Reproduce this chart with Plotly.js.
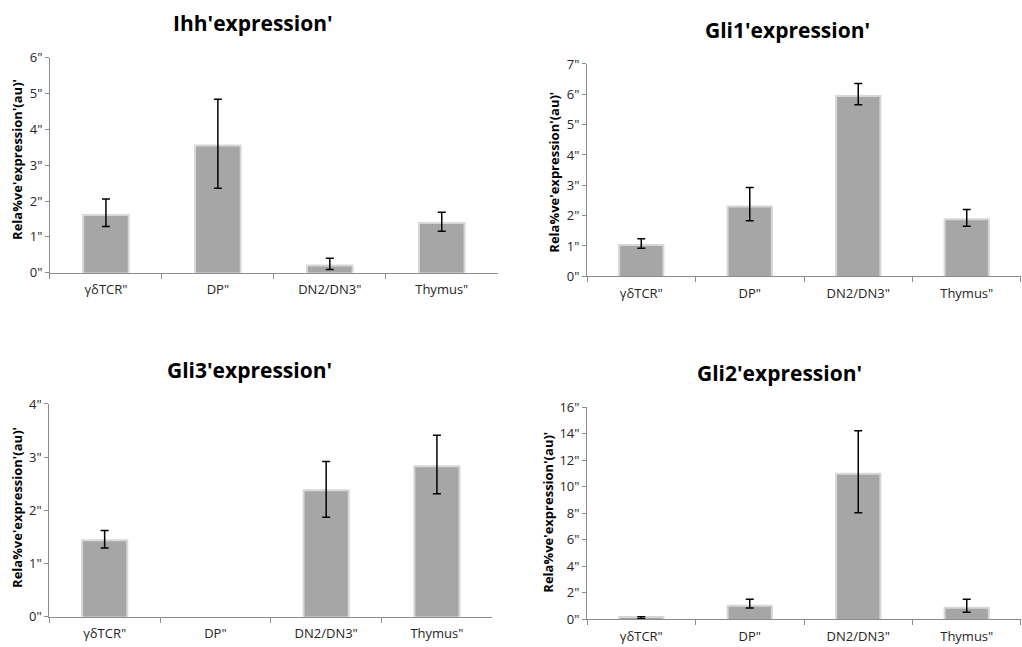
<!DOCTYPE html>
<html>
<head>
<meta charset="utf-8">
<script src="https://cdn.plot.ly/plotly-3.0.1.min.js"></script>
<style>html,body{margin:0;padding:0;background:#fff;}#chart{width:1022px;height:647px;}</style>
</head>
<body>
<div id="chart"></div>
<script>
const categories = ['γδTCR"', 'DP"', 'DN2/DN3"', 'Thymus"'];

const ihhValues = [1.58, 3.52, 0.17, 1.36];
const ihhErrPlus = [0.48, 1.32, 0.23, 0.33];
const ihhErrMinus = [0.29, 1.16, 0.08, 0.20];

const gli1Values = [1.00, 2.27, 5.91, 1.85];
const gli1ErrPlus = [0.24, 0.66, 0.45, 0.35];
const gli1ErrMinus = [0.08, 0.44, 0.25, 0.20];

const gli3Values = [1.42, null, 2.36, 2.81];
const gli3ErrPlus = [0.20, null, 0.56, 0.60];
const gli3ErrMinus = [0.13, null, 0.49, 0.50];

const gli2Values = [0.10, 0.95, 10.9, 0.80];
const gli2ErrPlus = [0.10, 0.56, 3.31, 0.71];
const gli2ErrMinus = [0.05, 0.10, 2.87, 0.27];

const titles = ["Ihh'expression'", "Gli1'expression'", "Gli3'expression'", "Gli2'expression'"];
const yTitle = "Rela%ve'expression'(au)'";

const FONT = 'Open Sans, sans-serif';
const BAR = '#a6a6a6';

function barTrace(vals, plus, minus, xa, ya) {
  return {
    type: 'bar', x: categories, y: vals, xaxis: xa, yaxis: ya,
    marker: {color: BAR, line: {color: 'rgba(166,166,166,0.45)', width: 4}},
    error_y: {type: 'data', symmetric: false, array: plus, arrayminus: minus,
              color: '#000', thickness: 1.5, width: 4},
    hoverinfo: 'none', showlegend: false
  };
}

const data = [
  barTrace(ihhValues, ihhErrPlus, ihhErrMinus, 'x', 'y'),
  barTrace(gli1Values, gli1ErrPlus, gli1ErrMinus, 'x2', 'y2'),
  barTrace(gli3Values, gli3ErrPlus, gli3ErrMinus, 'x3', 'y3'),
  barTrace(gli2Values, gli2ErrPlus, gli2ErrMinus, 'x4', 'y4')
];

function xAxis(domain, anchor) {
  return {
    domain: domain, anchor: anchor, type: 'category',
    categoryorder: 'array', categoryarray: categories,
    showline: true, linecolor: '#8c8c8c', linewidth: 1,
    ticks: 'outside', tickson: 'boundaries', ticklen: 5, tickcolor: '#8c8c8c',
    ticklabelstandoff: 5,
    tickfont: {family: FONT, size: 13, color: '#262626'},
    showgrid: false, zeroline: false, fixedrange: true
  };
}
function yAxis(domain, anchor, range, dtick) {
  return {
    domain: domain, anchor: anchor, range: range, dtick: dtick, tick0: 0,
    ticksuffix: '"',
    showline: true, linecolor: '#8c8c8c', linewidth: 1,
    ticks: 'outside', ticklen: 4, tickcolor: '#8c8c8c',
    tickfont: {family: FONT, size: 13, color: '#262626'},
    showgrid: false, zeroline: false, fixedrange: true
  };
}

function titleAnn(text, x, y) {
  return {text: text, x: x, y: y, xref: 'paper', yref: 'paper', showarrow: false,
          xanchor: 'center', yanchor: 'middle',
          font: {family: FONT, size: 21, color: '#000', weight: 'bold'}};
}
function yTitleAnn(x, y) {
  return {text: yTitle, x: x, y: y, xref: 'paper', yref: 'paper', showarrow: false,
          xanchor: 'center', yanchor: 'middle', textangle: -90,
          font: {family: FONT, size: 13, color: '#000', weight: 'bold'}};
}

const layout = {
  width: 1022, height: 647,
  margin: {l: 0, r: 0, t: 0, b: 0},
  paper_bgcolor: '#fff', plot_bgcolor: '#fff',
  bargap: 0.61,
  xaxis: xAxis([0.0489, 0.487], 'y'),
  yaxis: yAxis([0.5785, 0.9108], 'x', [0, 6], 1),
  xaxis2: xAxis([0.5744, 0.999], 'y2'),
  yaxis2: yAxis([0.5730, 0.9011], 'x2', [0, 7], 1),
  xaxis3: xAxis([0.0482, 0.4817], 'y3'),
  yaxis3: yAxis([0.0468, 0.3756], 'x3', [0, 4], 1),
  xaxis4: xAxis([0.5744, 0.999], 'y4'),
  yaxis4: yAxis([0.0428, 0.3709], 'x4', [0, 16], 2),
  annotations: [
    titleAnn(titles[0], 0.2476, 0.9645),
    titleAnn(titles[1], 0.7707, 0.9536),
    titleAnn(titles[2], 0.2446, 0.4286),
    titleAnn(titles[3], 0.7625, 0.4235),
    yTitleAnn(0.0166, 0.7543),
    yTitleAnn(0.542, 0.7346),
    yTitleAnn(0.0166, 0.2164),
    yTitleAnn(0.5359, 0.2087)
  ]
};

Plotly.newPlot('chart', data, layout, {displayModeBar: false, staticPlot: true});
</script>
</body>
</html>
